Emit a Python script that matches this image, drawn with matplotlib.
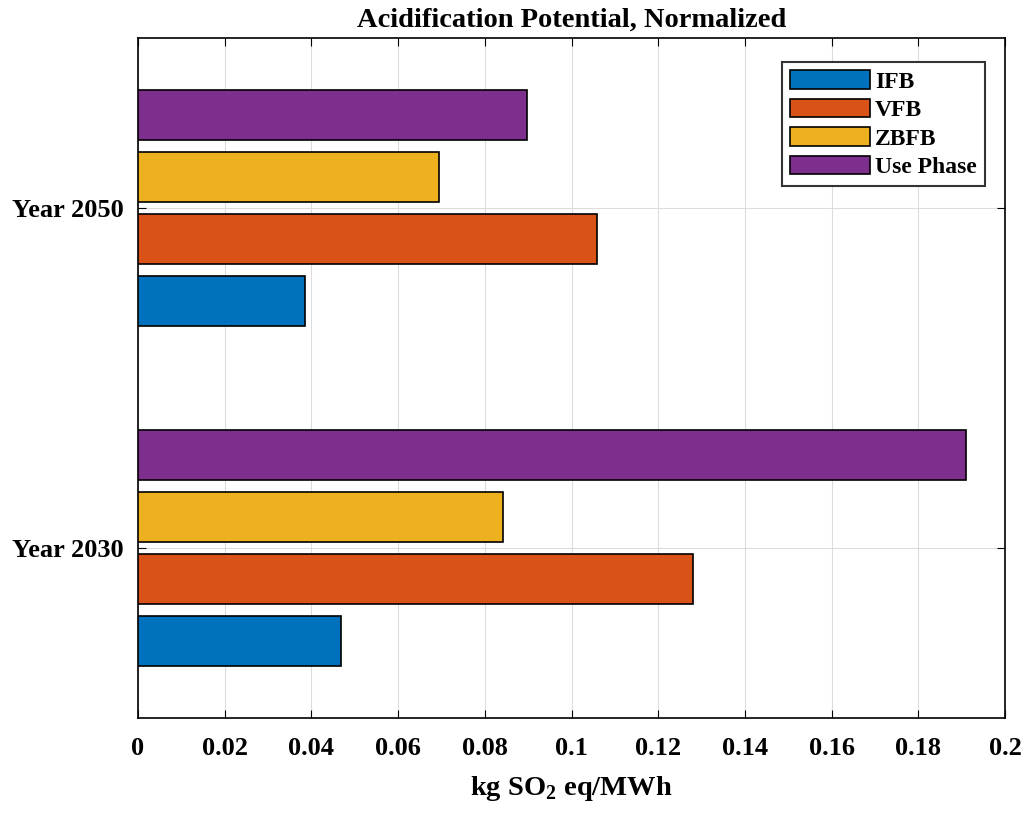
import numpy as np
import matplotlib.pyplot as plt

plt.rcParams.update({
    "font.family": ["Liberation Serif", "DejaVu Serif"],
    "font.weight": "bold",
    "mathtext.fontset": "custom",
    "mathtext.rm": "Liberation Serif:bold",
    "mathtext.bf": "Liberation Serif:bold",
    "xtick.direction": "in",
    "ytick.direction": "in",
    "axes.linewidth": 1.2,
})

years = ["Year 2030", "Year 2050"]
series = ["IFB", "VFB", "ZBFB", "Use Phase"]
ifb = [0.0468, 0.0385]
vfb = [0.128, 0.1059]
zbfb = [0.0842, 0.0694]
use_phase = [0.191, 0.0897]
colors = ["#0072BD", "#D95319", "#EDB120", "#7E2F8E"]

fig = plt.figure(figsize=(10.25, 8.13), dpi=100)
ax = fig.add_axes([0.1346, 0.1169, 0.846, 0.8364])

pos = np.arange(1, len(years) + 1)
offsets = [-0.273, -0.091, 0.091, 0.273]
for vals, off, c, name in zip([ifb, vfb, zbfb, use_phase], offsets, colors, series):
    ax.barh(pos + off, vals, height=0.147, color=c, edgecolor="black",
            linewidth=1.2, label=name, zorder=3)

ax.set_xlim(0, 0.2)
ax.set_ylim(0.5, 2.5)
ax.set_xticks(np.arange(0, 0.201, 0.02))
ax.set_xticklabels(["0", "0.02", "0.04", "0.06", "0.08", "0.1", "0.12",
                    "0.14", "0.16", "0.18", "0.2"])
ax.set_yticks(pos)
ax.set_yticklabels(years)
ax.tick_params(axis="both", labelsize=19, top=True, right=True, length=6,
               width=0.8)
ax.tick_params(axis="x", pad=14)
ax.tick_params(axis="y", pad=10)
ax.grid(True, color="#dcdcdc", linewidth=0.8, zorder=0)
ax.set_axisbelow(True)

ax.set_title("Acidification Potential, Normalized", fontsize=20.5,
             fontweight="bold", pad=8)
ax.set_xlabel(r"kg SO$_{\mathrm{2}}$ eq/MWh", fontsize=20.5, fontweight="bold",
              labelpad=10)

leg = ax.legend(loc="upper right", bbox_to_anchor=(0.977, 0.965), fontsize=17,
                fancybox=False, edgecolor="#333333", framealpha=1,
                handlelength=3.4, handleheight=0.85, borderpad=0.35,
                labelspacing=0.25, handletextpad=0.2, borderaxespad=0)
leg.get_frame().set_linewidth(1.5)

fig.savefig("out.png", dpi=100)
